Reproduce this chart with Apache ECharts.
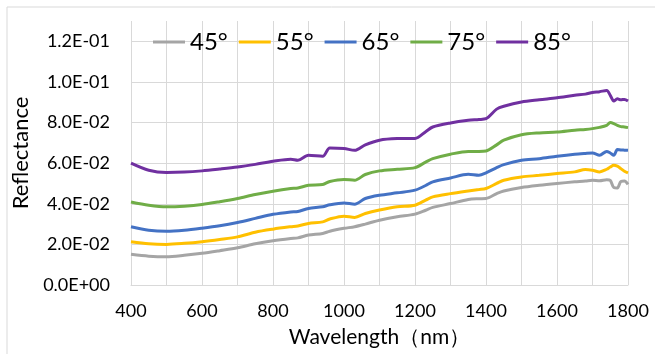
<!DOCTYPE html>
<html>
<head>
<meta charset="utf-8">
<script src="https://cdn.jsdelivr.net/npm/echarts@6/dist/echarts.min.js"></script>
<style>
  html, body { margin: 0; padding: 0; background: #fff; }
  #chart { width: 655px; height: 354px; }
</style>
</head>
<body>
<div id="chart"></div>
<script>
// wavelength (nm) sample points
const wavelength = [400, 450, 500, 550, 600, 650, 700, 750, 800, 850, 870, 900, 940, 960, 1000, 1030, 1060, 1100, 1150, 1200, 1230, 1250, 1300, 1350, 1380, 1400, 1430, 1450, 1500, 1550, 1600, 1650, 1680, 1700, 1720, 1740, 1750, 1760, 1770, 1780, 1790, 1800];

const refl45 = [0.0151, 0.0142, 0.0139, 0.0146, 0.0156, 0.0169, 0.0183, 0.0203, 0.0218, 0.0229, 0.0232, 0.0246, 0.0254, 0.0265, 0.0279, 0.0287, 0.0300, 0.0319, 0.0336, 0.0349, 0.0368, 0.0382, 0.0401, 0.0421, 0.0425, 0.0426, 0.0450, 0.0463, 0.0480, 0.0491, 0.0500, 0.0508, 0.0512, 0.0516, 0.0513, 0.0518, 0.0515, 0.0480, 0.0478, 0.0510, 0.0512, 0.0496];
const refl55 = [0.0213, 0.0203, 0.0200, 0.0205, 0.0213, 0.0224, 0.0237, 0.0260, 0.0275, 0.0287, 0.0291, 0.0303, 0.0311, 0.0325, 0.0339, 0.0333, 0.0352, 0.0369, 0.0385, 0.0393, 0.0418, 0.0434, 0.0450, 0.0463, 0.0470, 0.0475, 0.0500, 0.0516, 0.0532, 0.0540, 0.0549, 0.0557, 0.0569, 0.0565, 0.0557, 0.0570, 0.0581, 0.0590, 0.0585, 0.0573, 0.0560, 0.0552];
const refl65 = [0.0287, 0.0270, 0.0265, 0.0270, 0.0280, 0.0292, 0.0308, 0.0328, 0.0348, 0.0360, 0.0362, 0.0377, 0.0385, 0.0395, 0.0404, 0.0398, 0.0426, 0.0442, 0.0454, 0.0467, 0.0490, 0.0508, 0.0527, 0.0545, 0.0540, 0.0552, 0.0578, 0.0593, 0.0614, 0.0622, 0.0634, 0.0644, 0.0648, 0.0650, 0.0639, 0.0658, 0.0650, 0.0639, 0.0667, 0.0665, 0.0664, 0.0663];
const refl75 = [0.0409, 0.0393, 0.0385, 0.0388, 0.0396, 0.0410, 0.0426, 0.0446, 0.0462, 0.0475, 0.0478, 0.0491, 0.0495, 0.0510, 0.0520, 0.0516, 0.0544, 0.0562, 0.0570, 0.0578, 0.0605, 0.0622, 0.0644, 0.0658, 0.0658, 0.0660, 0.0690, 0.0713, 0.0740, 0.0749, 0.0753, 0.0762, 0.0766, 0.0770, 0.0776, 0.0786, 0.0800, 0.0795, 0.0786, 0.0780, 0.0778, 0.0775];
const refl85 = [0.0600, 0.0565, 0.0554, 0.0556, 0.0562, 0.0571, 0.0581, 0.0594, 0.0609, 0.0619, 0.0614, 0.0639, 0.0634, 0.0675, 0.0672, 0.0663, 0.0690, 0.0713, 0.0721, 0.0722, 0.0755, 0.0778, 0.0798, 0.0811, 0.0815, 0.0819, 0.0866, 0.0880, 0.0901, 0.0912, 0.0922, 0.0934, 0.0940, 0.0948, 0.0952, 0.0958, 0.0934, 0.0906, 0.0917, 0.0912, 0.0914, 0.0906];

const seriesNames = ['45°', '55°', '65°', '75°', '85°'];
const seriesColors = ['#A5A5A5', '#FFC000', '#4472C4', '#70AD47', '#7030A0'];
const seriesValues = [refl45, refl55, refl65, refl75, refl85];

var myChart = echarts.init(document.getElementById('chart'));

function sci(v) {
	// Excel style 1.2E-01
	var s = v.toExponential(1).split('e');
	var exp = parseInt(s[1], 10);
	var sign = exp < 0 ? '-' : '+';
	var e = Math.abs(exp);
	return s[0] + 'E' + sign + (e < 10 ? '0' + e : e);
}

myChart.setOption({
	backgroundColor: '#fff',
	animation: false,
	textStyle: { fontFamily: 'Lato' },
	graphic: [{
		type: 'rect',
		shape: { x: 7, y: 7, width: 660, height: 360 },
		style: { fill: 'none', stroke: '#d9d9d9', lineWidth: 1 },
		silent: true
	}],
	grid: {
		left: 131,
		right: 27,
		top: 21,
		bottom: 69,
		containLabel: false
	},
	legend: {
		left: 148,
		top: 25,
		icon: 'rect',
		itemWidth: 32,
		itemHeight: 3,
		itemGap: 11,
		textStyle: {
			fontFamily: 'Lato',
			fontSize: 24,
			color: '#000'
		},
		data: seriesNames
	},
	xAxis: {
		type: 'value',
		min: 400,
		max: 1800,
		interval: 200,
		name: 'Wavelength（nm）',
		nameLocation: 'middle',
		nameGap: 42,
		nameTextStyle: { fontSize: 21, color: '#000', fontFamily: 'Lato' },
		axisLine: { show: true, lineStyle: { color: '#d9d9d9' } },
		axisTick: { show: false },
		axisLabel: {
			margin: 17,
			fontSize: 18,
			color: '#000',
			formatter: function (v) { return String(v); }
		},
		splitLine: { show: true, lineStyle: { color: '#d9d9d9' } },
		minorTick: { show: false, splitNumber: 2 },
		minorSplitLine: { show: true, lineStyle: { color: '#d9d9d9' } }
	},
	yAxis: {
		type: 'value',
		min: 0,
		max: 0.13,
		interval: 0.02,
		name: 'Reflectance',
		nameLocation: 'middle',
		nameGap: 93,
		nameRotate: 90,
		nameTextStyle: { fontSize: 22, color: '#000', fontFamily: 'Lato' },
		axisLine: { show: false },
		axisTick: { show: false },
		axisLabel: {
			margin: 21,
			fontSize: 18,
			color: '#000',
			showMaxLabel: false,
			formatter: function (v) { return v > 0.125 ? '' : sci(v); }
		},
		splitLine: { show: true, showMaxLine: false, lineStyle: { color: '#d9d9d9' } }
	},
	series: seriesNames.map(function (name, i) {
		return {
			name: name,
			type: 'line',
			symbol: 'none',
			smooth: 0.3,
			itemStyle: { color: seriesColors[i] },
			lineStyle: { width: 3, color: seriesColors[i] },
			data: wavelength.map(function (w, j) { return [w, seriesValues[i][j]]; })
		};
	})
});
</script>
</body>
</html>
